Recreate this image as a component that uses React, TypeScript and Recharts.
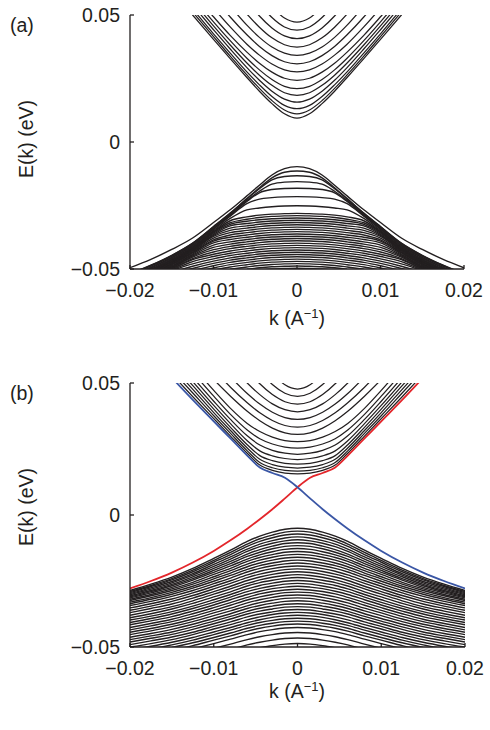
import React from 'react';
import { Line, LineChart, XAxis, YAxis } from 'recharts';

// k sample points, in units of 1e-3 1/A (bands are symmetric in k)
const kGrid = [0, 1.5, 3, 4.5, 6, 8, 10, 12.5, 15, 17.5, 20];

// energies in meV at kGrid
const condA = [
  [9.4, 11.1, 15.1, 20.0, 25.4, 32.8, 40.4, 50.0, 59.7],
  [11.1, 12.6, 16.3, 21.1, 26.4, 33.8, 41.5, 51.2],
  [13.1, 14.4, 17.9, 22.5, 27.6, 35.0, 42.6, 52.4],
  [15.7, 16.9, 20.0, 24.3, 29.3, 36.6, 44.2, 53.9],
  [18.4, 19.4, 22.3, 26.3, 31.1, 38.2, 45.7, 55.5],
  [21.0, 21.9, 24.6, 28.4, 33.0, 39.9, 47.3, 57.0],
  [24.3, 25.1, 27.5, 31.0, 35.4, 42.0, 49.3, 58.8],
  [27.6, 28.4, 30.7, 34.2, 38.5, 45.3, 52.7],
  [30.8, 31.6, 34.0, 37.6, 42.2, 49.2, 57.1],
  [34.1, 35.0, 37.4, 41.2, 46.0, 53.5],
  [37.4, 38.3, 41.0, 45.2, 50.4, 58.5],
  [40.7, 41.8, 44.9, 49.6, 55.6],
  [44.0, 45.3, 49.0, 54.6],
  [47.2, 48.8, 53.3],
];

const valA = [
  [-9.7, -10.5, -13.0, -17.0, -21.2, -26.7, -31.7, -37.8, -42.3, -46.2, -49.5],
  [-11.4, -11.9, -14.1, -18.0, -22.3, -28.0, -33.3, -39.8, -44.6, -48.5, -51.8],
  [-13.3, -13.6, -14.9, -18.4, -22.4, -28.1, -33.4, -39.9, -44.7, -48.6, -51.9],
  [-15.6, -15.8, -16.6, -19.4, -23.0, -28.5, -33.7, -40.2, -45.0, -48.9, -52.2],
  [-18.2, -18.3, -18.7, -20.0, -23.4, -28.9, -34.1, -40.6, -45.4, -49.3, -52.6],
  [-21.5, -21.6, -21.9, -22.5, -24.3, -29.2, -34.4, -40.9, -45.7, -49.6, -52.9],
  [-25.1, -25.2, -25.5, -26.0, -26.7, -30.1, -34.9, -41.3, -46.1, -50.0, -53.3],
  [-28.1, -28.2, -28.4, -28.8, -29.5, -31.0, -35.3, -41.6, -46.4, -50.3],
  [-29.0, -29.1, -29.3, -29.7, -30.4, -31.8, -35.5, -41.9, -46.7, -50.6],
  [-29.9, -30.0, -30.2, -30.6, -31.2, -32.4, -35.9, -42.2, -47.0, -50.9],
  [-30.8, -30.9, -31.1, -31.5, -32.1, -33.0, -36.4, -42.4, -47.2, -51.1],
  [-31.7, -31.8, -32.0, -32.4, -33.0, -33.9, -36.8, -42.6, -47.4, -51.3],
  [-32.6, -32.7, -32.9, -33.3, -33.9, -34.8, -37.2, -42.9, -47.7, -51.6],
  [-33.5, -33.6, -33.8, -34.2, -34.8, -35.7, -37.8, -43.2, -48.0, -51.8],
  [-34.4, -34.5, -34.7, -35.1, -35.7, -36.6, -38.5, -43.5, -48.2, -52.1],
  [-35.3, -35.4, -35.6, -36.0, -36.6, -37.5, -39.0, -43.7, -48.5, -52.3],
  [-36.2, -36.3, -36.5, -36.9, -37.5, -38.4, -39.7, -44.1, -48.8, -52.6],
  [-37.1, -37.2, -37.4, -37.8, -38.4, -39.3, -40.6, -44.5, -49.1, -52.9],
  [-38.0, -38.1, -38.3, -38.7, -39.3, -40.2, -41.5, -44.9, -49.3, -53.1],
  [-38.9, -39.0, -39.2, -39.6, -40.2, -41.1, -42.4, -45.3, -49.6, -53.3],
  [-39.8, -39.9, -40.1, -40.5, -41.1, -42.0, -43.3, -45.9, -49.9, -53.6],
  [-40.7, -40.8, -41.0, -41.4, -42.0, -42.9, -44.2, -46.3, -50.3],
  [-41.6, -41.7, -41.9, -42.3, -42.9, -43.8, -45.1, -47.1, -50.5],
  [-42.5, -42.6, -42.8, -43.2, -43.8, -44.7, -46.0, -48.0, -50.6],
  [-43.4, -43.5, -43.7, -44.1, -44.7, -45.6, -46.9, -48.9, -51.3],
  [-44.3, -44.4, -44.6, -45.0, -45.6, -46.5, -47.8, -49.8, -52.2],
  [-45.2, -45.3, -45.5, -45.9, -46.5, -47.4, -48.7, -50.7],
  [-46.1, -46.2, -46.4, -46.8, -47.4, -48.3, -49.6, -51.6],
  [-47.0, -47.1, -47.3, -47.7, -48.3, -49.2, -50.5],
  [-47.9, -48.0, -48.2, -48.6, -49.2, -50.1],
  [-48.8, -48.9, -49.1, -49.5, -50.1],
  [-49.7, -49.8, -50.0, -50.4],
];

const condB = [
  [15.6, 15.9, 16.9, 18.9, 23.4, 29.9, 36.5, 44.8, 53.3],
  [16.6, 16.9, 17.9, 19.9, 24.3, 30.9, 37.6, 46.2, 54.8],
  [17.8, 18.1, 19.1, 21.1, 25.4, 32.0, 38.8, 47.6, 56.3],
  [19.3, 19.6, 20.6, 22.5, 26.6, 33.2, 40.1, 49.0, 57.8],
  [21.0, 21.4, 22.4, 24.3, 28.1, 34.6, 41.5, 50.5],
  [23.0, 23.4, 24.5, 26.5, 30.0, 36.2, 43.1, 52.1],
  [25.3, 25.7, 26.9, 28.9, 32.2, 38.1, 45.0, 54.0],
  [27.8, 28.2, 29.5, 31.6, 34.7, 40.4, 47.2, 56.3],
  [30.5, 31.1, 32.9, 35.7, 39.3, 45.0, 51.3],
  [33.3, 33.9, 35.8, 38.7, 42.5, 48.4, 55.1],
  [36.2, 36.9, 38.9, 42.0, 46.0, 52.3],
  [39.1, 39.9, 42.1, 45.6, 50.0, 57.1],
  [42.0, 42.9, 45.6, 49.7, 54.9],
  [44.9, 46.1, 49.4, 54.5],
  [47.7, 49.3, 53.9],
];

const valB = [
  [-5.0, -5.4, -6.5, -8.0, -10.0, -13.3, -16.4, -20.2, -23.5, -26.2, -28.6],
  [-6.1, -6.5, -7.6, -9.0, -11.0, -14.2, -17.2, -20.9, -24.1, -26.7, -29.0],
  [-7.2, -7.6, -8.6, -10.0, -11.9, -15.0, -17.9, -21.5, -24.6, -27.1, -29.4],
  [-8.3, -8.7, -9.7, -11.0, -12.9, -15.9, -18.7, -22.2, -25.2, -27.6, -29.8],
  [-9.4, -9.8, -10.7, -12.0, -13.8, -16.7, -19.5, -22.8, -25.7, -28.1, -30.2],
  [-10.5, -10.8, -11.8, -13.1, -14.8, -17.6, -20.2, -23.4, -26.3, -28.6, -30.6],
  [-11.6, -11.9, -12.8, -14.1, -15.7, -18.4, -21.0, -24.1, -26.8, -29.0, -31.0],
  [-12.7, -13.0, -13.9, -15.1, -16.7, -19.3, -21.7, -24.7, -27.4, -29.5, -31.4],
  [-13.8, -14.1, -15.0, -16.1, -17.6, -20.2, -22.5, -25.5, -28.0, -30.1, -31.9],
  [-14.9, -15.2, -16.0, -17.1, -18.6, -21.1, -23.4, -26.2, -28.6, -30.6, -32.4],
  [-16.0, -16.3, -17.1, -18.2, -19.6, -22.0, -24.2, -27.0, -29.3, -31.3, -33.0],
  [-17.1, -17.4, -18.2, -19.2, -20.6, -22.9, -25.1, -27.7, -30.0, -31.9, -33.6],
  [-18.2, -18.5, -19.2, -20.2, -21.6, -23.9, -26.0, -28.6, -30.8, -32.7, -34.3],
  [-19.3, -19.6, -20.3, -21.3, -22.7, -24.9, -27.0, -29.5, -31.8, -33.6, -35.2],
  [-20.4, -20.7, -21.4, -22.4, -23.7, -25.9, -28.0, -30.5, -32.7, -34.5, -36.1],
  [-21.5, -21.8, -22.5, -23.5, -24.8, -27.0, -29.0, -31.5, -33.7, -35.4, -37.0],
  [-22.6, -22.9, -23.6, -24.6, -25.9, -28.0, -30.0, -32.5, -34.7, -36.4, -38.0],
  [-23.7, -24.0, -24.7, -25.6, -26.9, -29.1, -31.0, -33.5, -35.6, -37.4, -38.9],
  [-24.8, -25.1, -25.8, -26.7, -28.0, -30.1, -32.1, -34.5, -36.6, -38.3, -39.8],
  [-25.9, -26.2, -26.9, -27.8, -29.0, -31.1, -33.1, -35.4, -37.5, -39.2, -40.7],
  [-27.0, -27.3, -27.9, -28.9, -30.1, -32.1, -34.1, -36.4, -38.5, -40.1, -41.6],
  [-28.1, -28.4, -29.0, -29.9, -31.2, -33.2, -35.1, -37.4, -39.5, -41.1, -42.6],
  [-29.2, -29.4, -30.1, -31.0, -32.2, -34.2, -36.1, -38.4, -40.4, -42.0, -43.5],
  [-30.3, -30.5, -31.2, -32.1, -33.3, -35.3, -37.1, -39.4, -41.4, -43.0, -44.4],
  [-31.4, -31.6, -32.3, -33.2, -34.4, -36.3, -38.1, -40.4, -42.3, -43.9, -45.3],
  [-32.5, -32.7, -33.4, -34.3, -35.4, -37.4, -39.2, -41.4, -43.3, -44.9, -46.3],
  [-33.6, -33.8, -34.5, -35.3, -36.5, -38.4, -40.2, -42.4, -44.3, -45.8, -47.2],
  [-34.7, -34.9, -35.6, -36.4, -37.5, -39.4, -41.2, -43.3, -45.2, -46.7, -48.1],
  [-35.8, -36.0, -36.7, -37.5, -38.6, -40.5, -42.2, -44.4, -46.2, -47.7, -49.1],
  [-36.9, -37.1, -37.7, -38.6, -39.7, -41.5, -43.2, -45.3, -47.2, -48.7, -50.0],
  [-38.0, -38.2, -38.8, -39.7, -40.8, -42.6, -44.3, -46.4, -48.2, -49.7, -51.0],
  [-39.1, -39.3, -39.9, -40.7, -41.8, -43.6, -45.3, -47.4, -49.2, -50.7],
  [-40.2, -40.4, -41.0, -41.8, -42.9, -44.7, -46.4, -48.4, -50.2],
  [-41.3, -41.5, -42.1, -42.9, -44.0, -45.8, -47.4, -49.5, -51.3],
  [-42.6, -42.8, -43.4, -44.2, -45.3, -47.0, -48.7, -50.7],
  [-44.5, -44.7, -45.3, -46.1, -47.2, -48.9, -50.5],
  [-46.6, -46.8, -47.4, -48.2, -49.2, -51.0],
  [-48.7, -48.9, -49.5, -50.3],
];

// surface state of panel (b): red one, the blue one is its mirror image in k
const redK = [-20, -17.5, -15, -12.5, -10, -8, -6, -4.5, -3, -1.5, 0, 1.5, 3, 4.5, 6, 8, 10, 12.5, 15];
const redE = [-27.8, -25.0, -21.8, -18.0, -13.6, -9.6, -5.2, -1.6, 2.2, 6.3, 10.5, 14.1, 15.9, 18.0, 22.5, 29.0, 35.5, 43.6, 52.0];

const xTicks = [-0.02, -0.01, 0, 0.01, 0.02];
const yTicks = [-0.05, 0, 0.05];

const INK = '#231f20';
const FONT = '"Liberation Sans", Arial, Helvetica, sans-serif';

const fmt = (v: number) => (v === 0 ? '0' : (v < 0 ? '\u2212' : '') + String(Math.abs(v)));

const mirror = (band: number[]) => {
  const pts: { k: number; e: number }[] = [];
  for (let i = band.length - 1; i > 0; i--) pts.push({ k: -kGrid[i] / 1000, e: band[i] / 1000 });
  for (let i = 0; i < band.length; i++) pts.push({ k: kGrid[i] / 1000, e: band[i] / 1000 });
  return pts;
};

const redData = redK.map((k, i) => ({ k: k / 1000, e: redE[i] / 1000 }));
const blueData = redK.map((k, i) => ({ k: -k / 1000, e: redE[i] / 1000 })).reverse();

const bandLine = (data: { k: number; e: number }[], key: string, color = INK, w = 1.25) => (
  <Line
    key={key}
    data={data}
    dataKey='e'
    xAxisId='b'
    yAxisId='l'
    type='monotone'
    stroke={color}
    strokeWidth={w}
    dot={false}
    activeDot={false}
    isAnimationActive={false}
  />
);

const Panel: React.FC<any> = ({ top, height, right, label, xLabelTop, children }) => (
  <div style={{ position: 'absolute', left: 0, top, width: 490, height }}>
    <LineChart width={490} height={height} margin={{ top: 15, right, left: 70, bottom: 41 }}>
      <XAxis
        xAxisId='b'
        type='number'
        dataKey='k'
        domain={[-0.02, 0.02]}
        ticks={xTicks}
        allowDataOverflow
        tickFormatter={fmt}
        tickSize={-4}
        tickMargin={18}
        height={30}
        stroke={INK}
        strokeWidth={1.3}
        tick={{ fill: INK, fontSize: 19.5 }}
      />
      <XAxis
        xAxisId='t'
        orientation='top'
        type='number'
        dataKey='k'
        domain={[-0.02, 0.02]}
        ticks={xTicks}
        allowDataOverflow
        tick={false}
        tickSize={-4}
        height={0}
        stroke={INK}
        strokeWidth={1.3}
      />
      <YAxis
        yAxisId='l'
        type='number'
        domain={[-0.05, 0.05]}
        ticks={yTicks}
        allowDataOverflow
        tickFormatter={fmt}
        tickSize={-4}
        tickMargin={14}
        width={60}
        stroke={INK}
        strokeWidth={1.3}
        tick={{ fill: INK, fontSize: 19.5 }}
      />
      <YAxis
        yAxisId='r'
        orientation='right'
        type='number'
        domain={[-0.05, 0.05]}
        ticks={yTicks}
        allowDataOverflow
        tick={false}
        tickSize={-4}
        width={0}
        stroke={INK}
        strokeWidth={1.3}
      />
      {children}
    </LineChart>
    <div style={{ position: 'absolute', left: 10, top: 14, fontSize: 19.5 }}>{label}</div>
    <div
      style={{
        position: 'absolute',
        left: -74,
        top: 127,
        width: 200,
        height: 24,
        lineHeight: '24px',
        textAlign: 'center',
        fontSize: 19.5,
        transform: 'rotate(-90deg)',
      }}
    >
      E(k) (eV)
    </div>
    <div
      style={{
        position: 'absolute',
        left: 197,
        top: xLabelTop,
        width: 200,
        textAlign: 'center',
        fontSize: 19.5,
        lineHeight: '24px',
      }}
    >
      k (A<sup style={{ fontSize: 13, lineHeight: 0 }}>{'\u22121'}</sup>)
    </div>
  </div>
);

export default function App() {
  return (
    <div
      style={{
        position: 'absolute',
        left: 0,
        top: 0,
        width: 490,
        height: 730,
        background: '#fff',
        color: INK,
        fontFamily: FONT,
      }}
    >
      <Panel top={0} height={340} right={26} label='(a)' xLabelTop={306}>
        {condA.map((b, i) => bandLine(mirror(b), 'ca' + i))}
        {valA.map((b, i) => bandLine(mirror(b), 'va' + i, INK, 1.4))}
      </Panel>
      <Panel top={368} height={350} right={25} label='(b)' xLabelTop={311}>
        {condB.map((b, i) => bandLine(mirror(b), 'cb' + i))}
        {valB.map((b, i) => bandLine(mirror(b), 'vb' + i, INK, 1.4))}
        {bandLine(redData, 'red', '#e3262b', 1.8)}
        {bandLine(blueData, 'blue', '#3a56a5', 1.8)}
      </Panel>
    </div>
  );
}
